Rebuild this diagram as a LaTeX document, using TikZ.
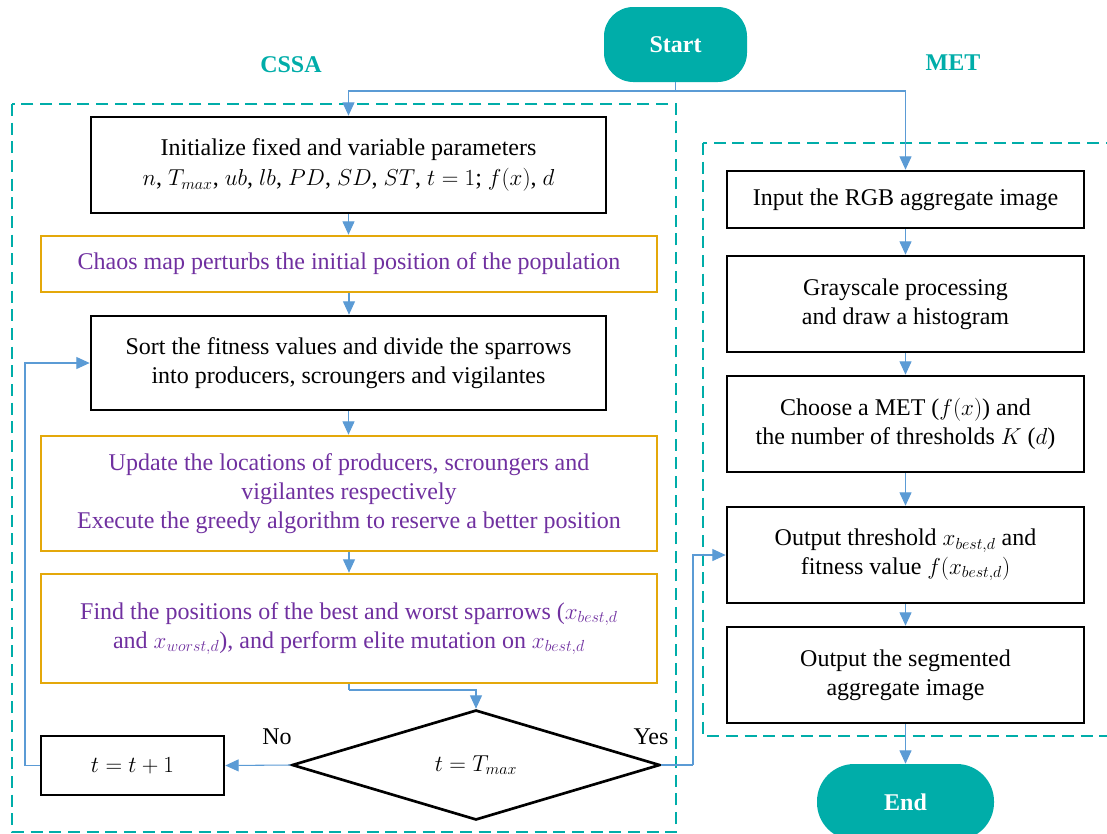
\documentclass[tikz,border=0pt]{standalone}
\usepackage{fontspec}
\setmainfont{Liberation Serif}
\usetikzlibrary{shapes.geometric,arrows.meta}
\definecolor{teal1}{RGB}{0,173,169}
\definecolor{conblue}{RGB}{91,155,213}
\definecolor{gold1}{RGB}{228,168,10}
\definecolor{purp}{RGB}{112,48,160}
\tikzset{
  base/.style={align=center,font=\fontsize{18}{21.5}\selectfont,inner sep=0pt},
  blackbox/.style={base,draw=black,line width=2pt,rectangle},
  goldbox/.style={base,draw=gold1,line width=2pt,rectangle,text=purp},
  term/.style={base,fill=teal1,text=white,font=\fontsize{18}{21.5}\selectfont\bfseries},
  conn/.style={draw=conblue,line width=0.8pt,-{Triangle[length=10pt,width=9pt]}},
  plain/.style={draw=conblue,line width=0.8pt},
  grp/.style={draw=teal1,line width=1.9pt,dash pattern=on 9pt off 5pt},
  lbl/.style={base,text=teal1,font=\fontsize{18}{21.5}\selectfont\bfseries},
}
\begin{document}
\begin{tikzpicture}[x=0.75pt,y=-0.75pt]
\clip (0,0) rectangle (1107,833);
\fill[white] (0,0) rectangle (1107,833);
% groups
\draw[grp] (12,104) rectangle (676,832);
\draw[grp] (703,143) rectangle (1120,736);
\node[lbl] (cssa) at (291,65) {CSSA};
\node[lbl] (met) at (953,63) {MET};
% terminals
\node[term,minimum width=107.25pt,minimum height=56.25pt,rounded corners=22pt] (start) at (675.5,44.5) {Start};
\node[term,minimum width=132.75pt,minimum height=57pt,rounded corners=28pt] (end) at (905.5,802) {End};
% left column
\node[blackbox,minimum width=386.25pt,minimum height=72pt] (b1) at (348.5,165)
  {Initialize fixed and variable parameters\\[1pt]
   $n$, $T_{max}$, $ub$, $lb$, $PD$, $SD$, $ST$, $t=1$; $f(x)$, $d$};
\node[goldbox,minimum width=462pt,minimum height=42pt] (b2) at (349,264)
  {Chaos map perturbs the initial position of the population};
\node[blackbox,minimum width=386.25pt,minimum height=70.5pt] (b3) at (348.5,363)
  {Sort the fitness values and divide the sparrows\\into producers, scroungers and vigilantes};
\node[goldbox,minimum width=462pt,minimum height=86.25pt] (b4) at (349,493.5)
  {Update the locations of producers, scroungers and\\vigilantes respectively\\Execute the greedy algorithm to reserve a better position};
\node[goldbox,minimum width=462pt,minimum height=81.75pt] (b5) at (349,628.5)
  {Find the positions of the best and worst sparrows ($x_{best,d}$\\and $x_{worst,d}$), and perform elite mutation on $x_{best,d}$};
\node[base,draw=black,line width=2pt,diamond,shape aspect=3.3,minimum width=276pt,minimum height=82.5pt] (dia) at (476,765) {$t=T_{max}$};
\node[blackbox,minimum width=137.25pt,minimum height=44.25pt] (tb) at (132.5,765.5) {$t=t+1$};
\node[base] (no) at (277,737) {No};
\node[base] (yes) at (651,737) {Yes};
% right column
\node[blackbox,minimum width=267.75pt,minimum height=42.75pt] (r1) at (905.5,199.5) {Input the RGB aggregate image};
\node[blackbox,minimum width=267.75pt,minimum height=72pt] (r2) at (905.5,304) {Grayscale processing\\and draw a histogram};
\node[blackbox,minimum width=267.75pt,minimum height=72pt] (r3) at (905.5,424) {Choose a MET ($f(x)$) and\\the number of thresholds $K$ ($d$)};
\node[blackbox,minimum width=267.75pt,minimum height=72pt] (r4) at (905.5,555) {Output threshold $x_{best,d}$ and\\fitness value $f\bigl(x_{best,d}\bigr)$};
\node[blackbox,minimum width=267.75pt,minimum height=72pt] (r5) at (905.5,675) {Output the segmented\\aggregate image};
% connectors
\coordinate (split) at (675.5,91);
\coordinate (c5) at (349,690);
\coordinate (fb) at (25,765.5);
\coordinate (yc) at (693,765);
\draw[plain] (start.south) -- (split);
\draw[conn] (split) -| (b1.north);
\draw[conn] (split) -| (r1.north);
\draw[conn] (b1.south) -- (b1.south |- b2.north);
\draw[conn] (b2.south) -- (b2.south |- b3.north);
\draw[conn] (b3.south) -- (b3.south |- b4.north);
\draw[conn] (b4.south) -- (b5.north);
\draw[plain] (b5.south) -- (c5);
\draw[conn] (c5) -| (dia.north);
\draw[conn] (dia.west) -- (tb.east);
\draw[plain] (tb.west) -- (fb);
\draw[conn] (fb) |- (b3.west);
\draw[plain] (dia.east) -- (yc);
\draw[conn] (yc) |- (r4.west);
\draw[conn] (r1) -- (r2);
\draw[conn] (r2) -- (r3);
\draw[conn] (r3) -- (r4);
\draw[conn] (r4) -- (r5);
\draw[conn] (r5) -- (end);
\end{tikzpicture}
\end{document}
